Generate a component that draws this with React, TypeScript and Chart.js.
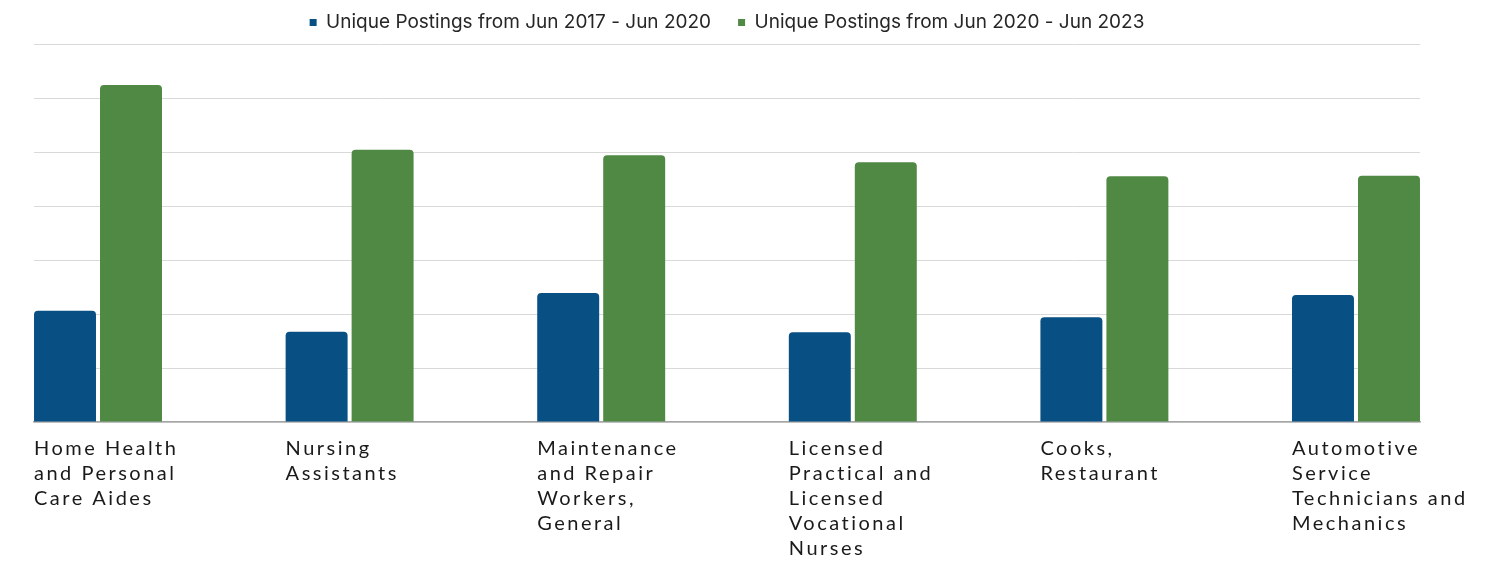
import React, { useEffect, useRef } from "react";
import { Chart, registerables } from "chart.js";

Chart.register(...registerables);

const categories: string[][] = [
  ["Home Health", "and Personal", "Care Aides"],
  ["Nursing", "Assistants"],
  ["Maintenance", "and Repair", "Workers,", "General"],
  ["Licensed", "Practical and", "Licensed", "Vocational", "Nurses"],
  ["Cooks,", "Restaurant"],
  ["Automotive", "Service", "Technicians and", "Mechanics"],
];

const seriesNames = [
  "Unique Postings from Jun 2017 - Jun 2020",
  "Unique Postings from Jun 2020 - Jun 2023",
];

const postings2017to2020 = [2060, 1670, 2390, 1660, 1940, 2350];
const postings2020to2023 = [6240, 5040, 4940, 4810, 4550, 4560];

const BLUE = "#084f83";
const GREEN = "#4f8944";

const letterSpacingPlugin = {
  id: "xLetterSpacing",
  beforeDraw(chart: any) {
    const s: any = chart.scales.x;
    if (s && !s.__wrapped) {
      const orig = s.drawLabels.bind(s);
      s.drawLabels = (area: any) => {
        const ctx: any = chart.ctx;
        ctx.save();
        ctx.letterSpacing = "2.5px";
        orig(area);
        ctx.restore();
      };
      s.__wrapped = true;
    }
  },
};

const legendHeightPlugin = {
  id: "legendHeight",
  beforeInit(chart: any) {
    const legend = chart.legend;
    if (!legend) return;
    const origFit = legend.fit.bind(legend);
    legend.fit = function () {
      origFit();
      this.height += 2;
    };
  },
};

export default function App() {
  const ref = useRef<HTMLCanvasElement | null>(null);

  useEffect(() => {
    if (!ref.current) return;
    const toPoints = (arr: number[]) => arr.map((v, i) => ({ x: i, y: v }));
    const chart = new Chart(ref.current, {
      type: "bar",
      data: {
        datasets: [
          {
            label: seriesNames[0],
            data: toPoints(postings2017to2020) as any,
            backgroundColor: BLUE,
            borderWidth: 0,
            borderRadius: 4,
            categoryPercentage: 0.5246,
            barPercentage: 0.939,
          },
          {
            label: seriesNames[1],
            data: toPoints(postings2020to2023) as any,
            backgroundColor: GREEN,
            borderWidth: 0,
            borderRadius: 4,
            categoryPercentage: 0.5246,
            barPercentage: 0.939,
          },
        ],
      },
      options: {
        animation: false,
        responsive: true,
        maintainAspectRatio: false,
        layout: { padding: { left: 34, right: 69, top: -14, bottom: -12 } },
        plugins: {
          tooltip: { enabled: false },
          legend: {
            position: "top",
            align: "center",
            labels: {
              boxWidth: 7,
              boxHeight: 7,
              padding: 27,
              color: "#262626",
              font: { family: "Inter", size: 19 },
            },
          },
        },
        scales: {
          x: {
            type: "linear",
            min: -0.2544,
            max: 5.2544,
            offset: false,
            bounds: "data",
            grid: { display: false, drawTicks: false },
            border: { display: true, color: "#a6a6a6", width: 1.5 },
            afterBuildTicks: (scale: any) => {
              scale.ticks = categories.map((_, i) => ({ value: i - 0.2544 }));
            },
            ticks: {
              autoSkip: false,
              maxRotation: 0,
              minRotation: 0,
              align: "start",
              padding: 14,
              color: "#1a1a1a",
              font: { family: "Lato", size: 20, lineHeight: 1.25 },
              callback: (_v: any, index: number) => categories[index],
            },
          },
          y: {
            min: 0,
            max: 7000,
            grid: { color: "#d9d9d9", lineWidth: 1, drawTicks: false },
            border: { display: false },
            ticks: { display: false, stepSize: 1000 },
          },
        },
      },
      plugins: [letterSpacingPlugin, legendHeightPlugin],
    });
    return () => chart.destroy();
  }, []);

  return (
    <div
      style={{
        position: "fixed",
        left: 0,
        top: 0,
        width: "1489px",
        height: "563px",
        background: "#ffffff",
      }}
    >
      <canvas ref={ref} />
    </div>
  );
}
